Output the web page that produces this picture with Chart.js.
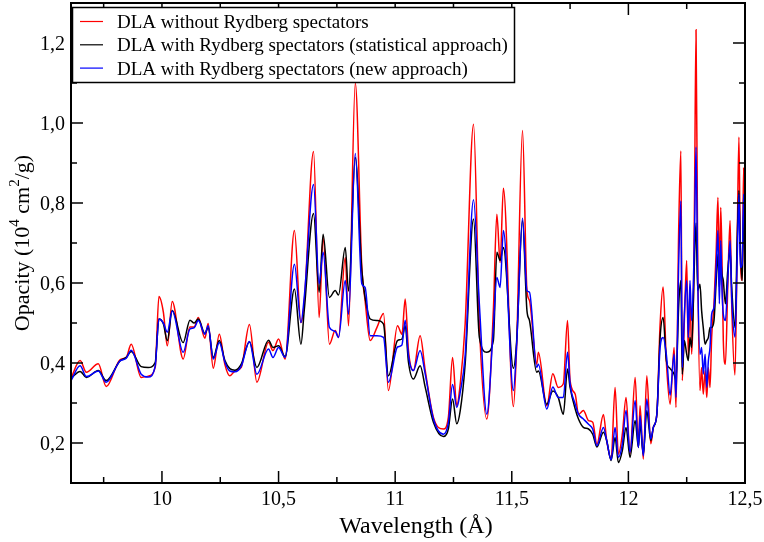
<!DOCTYPE html>
<html>
<head>
<meta charset="utf-8">
<script src="https://cdn.jsdelivr.net/npm/chart.js@4.4.1/dist/chart.umd.min.js"></script>
<style>
  html, body { margin: 0; padding: 0; background: #fff; }
  #wrap { width: 764px; height: 542px; }
</style>
</head>
<body>
<div id="wrap"><canvas id="opacityChart" width="764" height="542"></canvas></div>
<script>
// wavelength grid (Å)
const wavelength = [
  9.61, 9.649, 9.676, 9.727, 9.761, 9.82, 9.847, 9.868, 9.911, 9.941, 9.971, 9.987,
  10.006, 10.023, 10.044, 10.091, 10.12, 10.138, 10.156, 10.184, 10.198, 10.22, 10.246, 10.27,
  10.291, 10.313, 10.34, 10.375, 10.407, 10.457, 10.476, 10.5, 10.528, 10.568, 10.596, 10.61,
  10.65, 10.674, 10.691, 10.718, 10.743, 10.757, 10.786, 10.8, 10.829, 10.857, 10.871, 10.893,
  10.922, 10.95, 10.971, 11.01, 11.029, 11.043, 11.057, 11.078, 11.107, 11.129, 11.164, 11.207,
  11.228, 11.246, 11.264, 11.279, 11.3, 11.336, 11.361, 11.393, 11.421, 11.436, 11.45, 11.464,
  11.507, 11.521, 11.546, 11.565, 11.576, 11.607, 11.614, 11.65, 11.676, 11.699, 11.721, 11.739,
  11.75, 11.772, 11.786, 11.807, 11.829, 11.847, 11.865, 11.893, 11.907, 11.926, 11.943, 11.957,
  11.974, 11.99, 12.007, 12.029, 12.043, 12.05, 12.064, 12.079, 12.096, 12.107, 12.122, 12.136,
  12.149, 12.163, 12.179, 12.196, 12.204, 12.216, 12.225, 12.231, 12.24, 12.25, 12.257, 12.264,
  12.271, 12.279, 12.284, 12.29, 12.297, 12.307, 12.314, 12.321, 12.329, 12.336, 12.343, 12.35,
  12.357, 12.367, 12.376, 12.384, 12.39, 12.396, 12.401, 12.407, 12.416, 12.426, 12.436, 12.443,
  12.457, 12.467, 12.474, 12.48, 12.488, 12.494, 12.5
];

// DLA without Rydberg spectators (red)
const withoutRydberg = [
  .362, .406, .377, .398, .341, .408, .414, .447, .364, .367, .389, .566,
  .527, .443, .554, .410, .490, .490, .514, .462, .499, .387, .472, .396,
  .368, .380, .389, .496, .352, .452, .431, .460, .410, .731, .501, .551,
  .929, .514, .714, .447, .481, .464, .664, .493, 1.10, .639, .556, .456,
  .489, .524, .331, .493, .472, .560, .431, .381, .468, .381, .264, .235,
  .264, .414, .293, .348, .497, .997, .497, .260, .531, .772, .651, .837,
  .291, .447, .981, .581, .556, .397, .427, .293, .373, .339, .348, .506,
  .356, .322, .272, .281, .256, .252, .197, .271, .206, .160, .339, .172,
  .222, .314, .172, .364, .189, .293, .160, .368, .198, .239, .272, .497,
  .590, .400, .297, .439, .289, .743, .930, .356, .506, .656, .414, .589,
  .422, .564, .839, 1.233, .672, .331, .389, .322, .381, .314, .389, .339,
  .464, .548, .672, .814, .606, .789, .672, .456, .397, .589, .756, .548,
  .370, .722, .965, .672, .606, .889, .540
];

// DLA with Rydberg spectators, statistical approach (black)
const statistical = [
  .362, .379, .364, .381, .356, .405, .414, .429, .391, .389, .401, .510,
  .498, .456, .531, .451, .507, .500, .510, .474, .489, .414, .456, .406,
  .386, .382, .397, .453, .389, .457, .439, .443, .416, .585, .447, .531,
  .774, .577, .722, .564, .581, .570, .689, .580, .914, .631, .564, .510,
  .506, .497, .368, .456, .460, .493, .402, .360, .393, .339, .252, .216,
  .235, .310, .248, .281, .397, .760, .464, .427, .456, .677, .656, .689,
  .387, .456, .756, .531, .506, .377, .380, .297, .330, .314, .272, .385,
  .339, .285, .260, .239, .235, .222, .190, .227, .206, .156, .214, .151,
  .181, .239, .164, .256, .189, .247, .172, .281, .206, .239, .272, .464,
  .514, .405, .386, .372, .356, .547, .606, .372, .456, .422, .406, .464,
  .439, .564, .672, .750, .581, .597, .531, .489, .447, .456, .464, .489,
  .489, .506, .598, .672, .589, .656, .622, .606, .548, .631, .681, .589,
  .489, .722, .831, .689, .606, .780, .650
];

// DLA with Rydberg spectators, new approach (blue)
const newApproach = [
  .356, .393, .366, .380, .352, .405, .412, .432, .372, .365, .392, .510,
  .500, .477, .530, .427, .485, .488, .506, .472, .493, .410, .451, .402,
  .380, .378, .392, .454, .372, .435, .414, .439, .414, .647, .501, .564,
  .846, .598, .677, .489, .479, .464, .606, .522, .924, .598, .589, .468,
  .468, .464, .352, .440, .445, .507, .418, .381, .431, .372, .260, .222,
  .250, .346, .289, .327, .418, .808, .547, .272, .489, .614, .589, .731,
  .331, .447, .762, .581, .577, .389, .397, .285, .340, .314, .314, .427,
  .348, .297, .272, .260, .247, .235, .193, .239, .206, .158, .239, .164,
  .197, .281, .177, .306, .189, .268, .168, .310, .210, .239, .272, .439,
  .464, .420, .320, .422, .314, .656, .805, .389, .523, .606, .464, .606,
  .506, .606, .739, .940, .622, .422, .439, .372, .422, .339, .406, .439,
  .522, .539, .631, .731, .548, .706, .589, .522, .506, .606, .706, .564,
  .465, .672, .822, .639, .648, .822, .700
];

const seriesNames = [
  'DLA without Rydberg spectators',
  'DLA with Rydberg spectators (statistical approach)',
  'DLA with Rydberg spectators (new approach)'
];
const seriesColors = ['#ff0000', '#000000', '#0000ff'];

// axis ticks
const xTicks = [10, 10.5, 11, 11.5, 12, 12.5];
const xTickLabels = ['10', '10,5', '11', '11,5', '12', '12,5'];
const xMinor = [9.75, 10.25, 10.75, 11.25, 11.75, 12.25];
const yTicks = [0.2, 0.4, 0.6, 0.8, 1.0, 1.2];
const yTickLabels = ['0,2', '0,4', '0,6', '0,8', '1,0', '1,2'];
const yMinor = [0.3, 0.5, 0.7, 0.9, 1.1];

const toPoints = (ys) => ys.map((v, i) => ({ x: wavelength[i], y: v }));

const serif = '"Liberation Serif", "DejaVu Serif", serif';

// frame, inward ticks, labels and legend, grace style
const gracePlot = {
  id: 'gracePlot',
  afterDatasetsDraw(chart) {
    const { ctx, chartArea: a, scales: { x, y } } = chart;
    ctx.save();
    ctx.strokeStyle = '#000';
    ctx.fillStyle = '#000';

    const seg = (x1, y1, x2, y2) => {
      ctx.beginPath(); ctx.moveTo(x1, y1); ctx.lineTo(x2, y2); ctx.stroke();
    };

    ctx.lineWidth = 1.5;
    xTicks.forEach(v => {
      const px = x.getPixelForValue(v);
      seg(px, a.bottom, px, a.bottom - 12);
      seg(px, a.top, px, a.top + 12);
    });
    xMinor.forEach(v => {
      const px = x.getPixelForValue(v);
      seg(px, a.bottom, px, a.bottom - 6);
      seg(px, a.top, px, a.top + 6);
    });
    yTicks.forEach(v => {
      const py = y.getPixelForValue(v);
      seg(a.left, py, a.left + 12, py);
      seg(a.right, py, a.right - 12, py);
    });
    yMinor.forEach(v => {
      const py = y.getPixelForValue(v);
      seg(a.left, py, a.left + 6, py);
      seg(a.right, py, a.right - 6, py);
    });

    ctx.lineWidth = 2;
    ctx.strokeRect(a.left, a.top, a.right - a.left, a.bottom - a.top);

    // tick labels
    ctx.font = '20px ' + serif;
    ctx.textAlign = 'center';
    ctx.textBaseline = 'alphabetic';
    xTicks.forEach((v, i) => ctx.fillText(xTickLabels[i], x.getPixelForValue(v), a.bottom + 22));
    ctx.textAlign = 'right';
    yTicks.forEach((v, i) => ctx.fillText(yTickLabels[i], a.left - 6, y.getPixelForValue(v) + 6.6));

    // x title
    ctx.font = '24px ' + serif;
    ctx.textAlign = 'center';
    ctx.fillText('Wavelength (Å)', 416, a.bottom + 50);

    // y title with superscripts
    const parts = [['Opacity (10', false], ['4', true], [' cm', false], ['2', true], ['/g)', false]];
    const big = '22px ' + serif, small = '15px ' + serif;
    let total = 0;
    parts.forEach(([t, sup]) => { ctx.font = sup ? small : big; total += ctx.measureText(t).width; });
    ctx.save();
    ctx.translate(29, (a.top + a.bottom) / 2);
    ctx.rotate(-Math.PI / 2);
    ctx.textAlign = 'left';
    let cx = -total / 2;
    parts.forEach(([t, sup]) => {
      ctx.font = sup ? small : big;
      ctx.fillText(t, cx, sup ? -10 : 0);
      cx += ctx.measureText(t).width;
    });
    ctx.restore();

    // legend
    const lx = a.left + 1.5, ly = 7.5, lw = 442, lh = 75;
    ctx.fillStyle = '#fff';
    ctx.fillRect(lx, ly, lw, lh);
    ctx.lineWidth = 1.5;
    ctx.strokeStyle = '#000';
    ctx.strokeRect(lx, ly, lw, lh);
    ctx.font = '19px ' + serif;
    ctx.textAlign = 'left';
    ctx.textBaseline = 'alphabetic';
    seriesNames.forEach((name, i) => {
      const rowY = 21.5 + i * 23.3;
      ctx.strokeStyle = seriesColors[i];
      ctx.lineWidth = 1.2;
      seg(80, rowY, 103, rowY);
      ctx.fillStyle = '#000';
      ctx.fillText(name, 117, rowY + 6.5);
    });
    ctx.restore();
  }
};

new Chart(document.getElementById('opacityChart'), {
  type: 'line',
  data: {
    datasets: [
      { label: seriesNames[0], data: toPoints(withoutRydberg), borderColor: seriesColors[0], order: 3 },
      { label: seriesNames[1], data: toPoints(statistical), borderColor: seriesColors[1], order: 2 },
      { label: seriesNames[2], data: toPoints(newApproach), borderColor: seriesColors[2], order: 1 }
    ].map(d => Object.assign(d, {
      borderWidth: 1.5,
      pointRadius: 0,
      fill: false,
      cubicInterpolationMode: 'monotone'
    }))
  },
  options: {
    responsive: false,
    animation: false,
    devicePixelRatio: 1,
    layout: { padding: { left: 71, right: 19, top: 3, bottom: 59 } },
    plugins: { legend: { display: false }, tooltip: { enabled: false } },
    scales: {
      x: { type: 'linear', min: 9.61, max: 12.5, display: false },
      y: { type: 'linear', min: 0.1, max: 1.3, display: false }
    }
  },
  plugins: [gracePlot]
});
</script>
</body>
</html>
